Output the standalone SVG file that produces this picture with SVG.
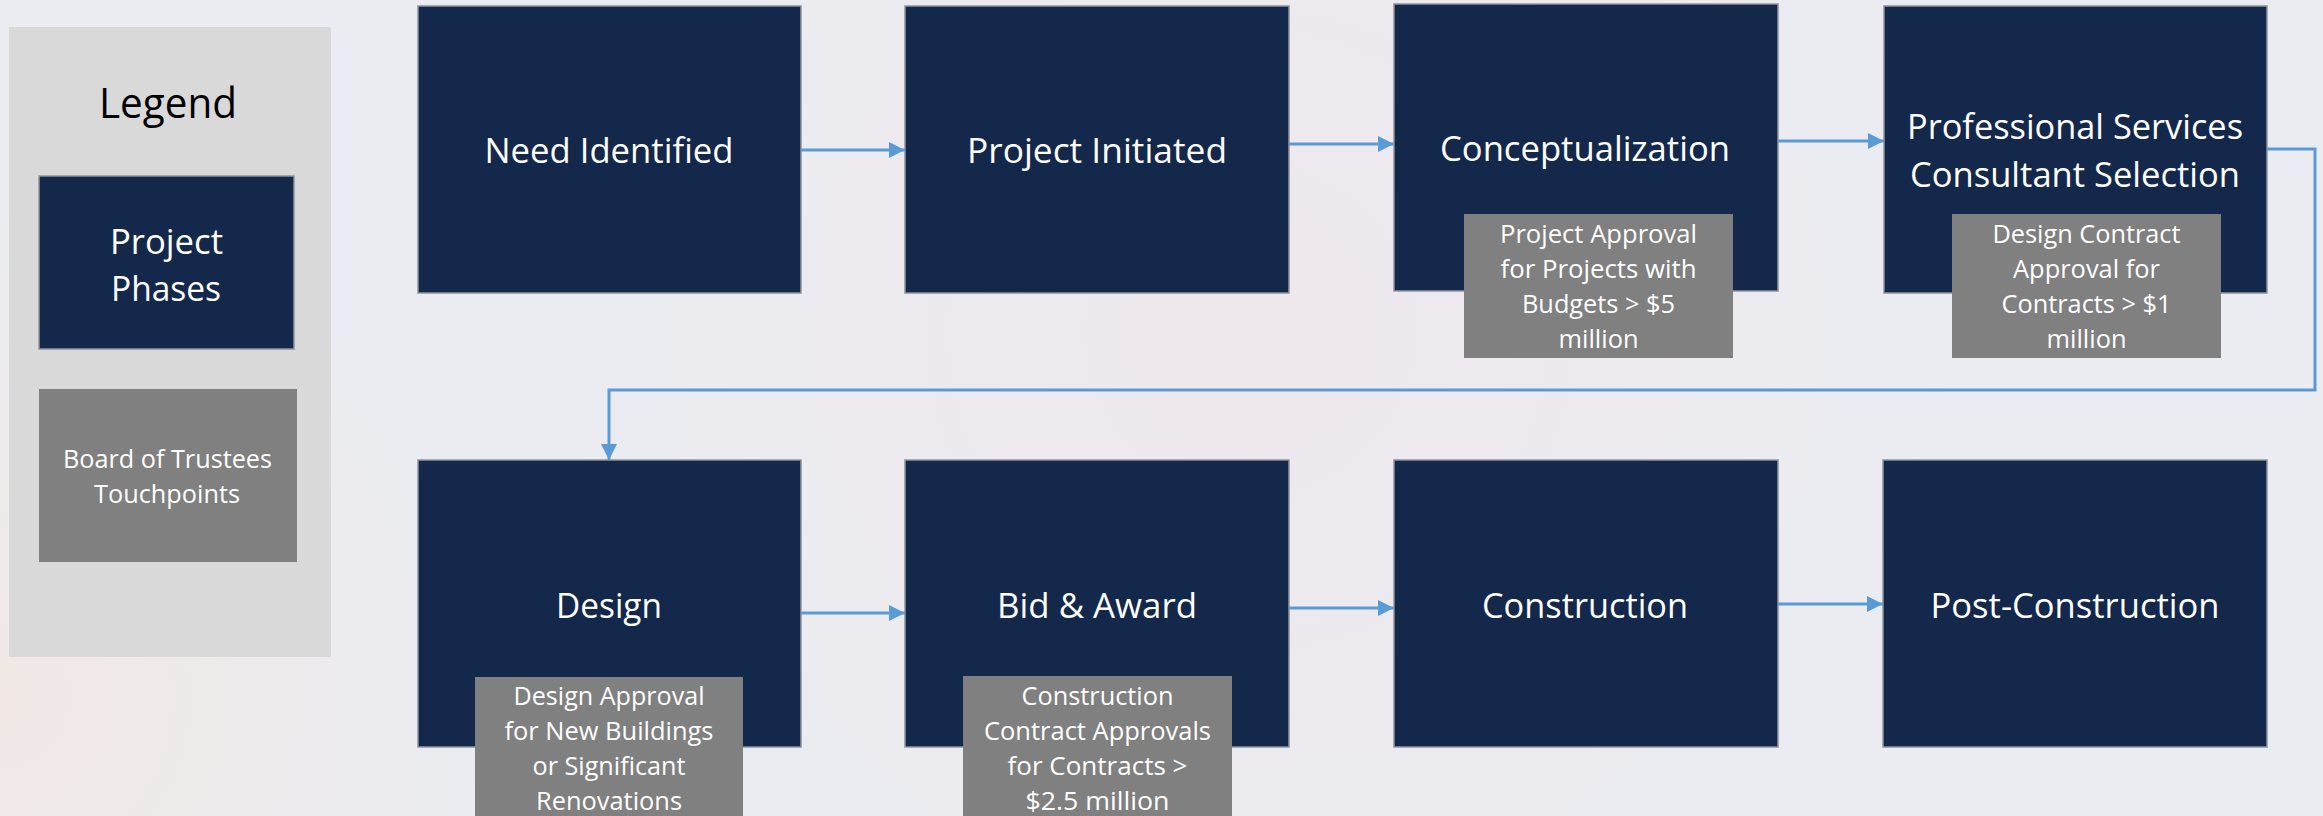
<svg xmlns="http://www.w3.org/2000/svg" width="2323" height="816" viewBox="0 0 2323 816">
  <defs>
    <radialGradient id="bgPink" cx="1250" cy="330" r="700" gradientUnits="userSpaceOnUse">
      <stop offset="0" stop-color="#efe7ec" stop-opacity="0.9"/>
      <stop offset="1" stop-color="#efe7ec" stop-opacity="0"/>
    </radialGradient>
    <radialGradient id="bgWarm" cx="0" cy="700" r="500" gradientUnits="userSpaceOnUse">
      <stop offset="0" stop-color="#f1e8e5" stop-opacity="1"/>
      <stop offset="1" stop-color="#f1e8e5" stop-opacity="0"/>
    </radialGradient>
    <marker id="arrow" markerUnits="userSpaceOnUse" markerWidth="17" markerHeight="16" refX="16" refY="8" orient="auto">
      <path d="M0,0 L16,8 L0,16 z" fill="#5b9bd5"/>
    </marker>
    <style>
      .phase { fill: #14284b; stroke: #8f949c; stroke-width: 1.5; }
      .touch { fill: #808080; }
      .lbl { font-family: "Open Sans", "Noto Sans", "DejaVu Sans", sans-serif; fill: #ffffff; text-anchor: middle; }
      .big { font-size: 35px; }
      .small { font-size: 26px; }
      .conn { fill: none; stroke: #5b9bd5; stroke-width: 3; marker-end: url(#arrow); }
    </style>
  </defs>

  <rect x="0" y="0" width="2323" height="816" fill="#eaecf1"/>
  <rect x="0" y="0" width="2323" height="816" fill="url(#bgPink)"/>
  <rect x="0" y="0" width="2323" height="816" fill="url(#bgWarm)"/>

  <g id="legend">
    <rect x="9" y="27" width="322" height="630" fill="#d9d9d9"/>
    <text x="168" y="118" font-family="Open Sans, Noto Sans, sans-serif" font-size="42" fill="#000000" text-anchor="middle" textLength="138" lengthAdjust="spacingAndGlyphs">Legend</text>
    <g id="legend-phase">
      <rect x="39" y="176" width="255" height="173" class="phase"/>
      <text x="166.5" y="254" class="lbl big" textLength="113" lengthAdjust="spacingAndGlyphs">Project</text>
      <text x="166" y="301" class="lbl big" textLength="110" lengthAdjust="spacingAndGlyphs">Phases</text>
    </g>
    <g id="legend-touch">
      <rect x="39" y="389" width="258" height="173" class="touch"/>
      <text x="167.5" y="468" class="lbl small" textLength="209" lengthAdjust="spacingAndGlyphs">Board of Trustees</text>
      <text x="167" y="503" class="lbl small" textLength="146" lengthAdjust="spacingAndGlyphs">Touchpoints</text>
    </g>
  </g>

  <g id="connectors">
    <line x1="801" y1="150" x2="905" y2="150" class="conn"/>
    <line x1="1289" y1="144" x2="1394" y2="144" class="conn"/>
    <line x1="1778" y1="141" x2="1884" y2="141" class="conn"/>
    <polyline points="2267,149 2315,149 2315,390 609,390 609,460" class="conn"/>
    <line x1="801" y1="613" x2="905" y2="613" class="conn"/>
    <line x1="1289" y1="608" x2="1394" y2="608" class="conn"/>
    <line x1="1778" y1="604" x2="1883" y2="604" class="conn"/>
  </g>

  <g id="need-identified">
    <rect x="418" y="6" width="383" height="287" class="phase"/>
    <text x="609" y="162.5" class="lbl big" textLength="249" lengthAdjust="spacingAndGlyphs">Need Identified</text>
  </g>

  <g id="project-initiated">
    <rect x="905" y="6" width="384" height="287" class="phase"/>
    <text x="1097" y="163" class="lbl big" textLength="260" lengthAdjust="spacingAndGlyphs">Project Initiated</text>
  </g>

  <g id="conceptualization">
    <rect x="1394" y="4" width="384" height="287" class="phase"/>
    <text x="1585" y="161" class="lbl big" textLength="290" lengthAdjust="spacingAndGlyphs">Conceptualization</text>
  </g>
  <g id="touch-project-approval">
    <rect x="1464" y="214" width="269" height="144" class="touch"/>
    <text x="1598.5" y="243" class="lbl small" textLength="197" lengthAdjust="spacingAndGlyphs">Project Approval</text>
    <text x="1598.5" y="278" class="lbl small" textLength="196" lengthAdjust="spacingAndGlyphs">for Projects with</text>
    <text x="1598.5" y="313" class="lbl small" textLength="153" lengthAdjust="spacingAndGlyphs">Budgets &gt; $5</text>
    <text x="1598.5" y="348" class="lbl small" textLength="80" lengthAdjust="spacingAndGlyphs">million</text>
  </g>

  <g id="professional-services">
    <rect x="1884" y="6" width="383" height="287" class="phase"/>
    <text x="2075" y="139" class="lbl big" textLength="336" lengthAdjust="spacingAndGlyphs">Professional Services</text>
    <text x="2075" y="187" class="lbl big" textLength="330" lengthAdjust="spacingAndGlyphs">Consultant Selection</text>
  </g>
  <g id="touch-design-contract">
    <rect x="1952" y="214" width="269" height="144" class="touch"/>
    <text x="2086.5" y="243" class="lbl small" textLength="188" lengthAdjust="spacingAndGlyphs">Design Contract</text>
    <text x="2086.5" y="278" class="lbl small" textLength="147" lengthAdjust="spacingAndGlyphs">Approval for</text>
    <text x="2086.5" y="313" class="lbl small" textLength="170" lengthAdjust="spacingAndGlyphs">Contracts &gt; $1</text>
    <text x="2086.5" y="348" class="lbl small" textLength="80" lengthAdjust="spacingAndGlyphs">million</text>
  </g>

  <g id="design">
    <rect x="418" y="460" width="383" height="287" class="phase"/>
    <text x="609" y="618" class="lbl big" textLength="106" lengthAdjust="spacingAndGlyphs">Design</text>
  </g>
  <g id="touch-design-approval">
    <rect x="475" y="677" width="268" height="150" class="touch"/>
    <text x="609" y="705" class="lbl small" textLength="191" lengthAdjust="spacingAndGlyphs">Design Approval</text>
    <text x="609" y="740" class="lbl small" textLength="209" lengthAdjust="spacingAndGlyphs">for New Buildings</text>
    <text x="609" y="775" class="lbl small" textLength="153" lengthAdjust="spacingAndGlyphs">or Significant</text>
    <text x="609" y="810" class="lbl small" textLength="146" lengthAdjust="spacingAndGlyphs">Renovations</text>
  </g>

  <g id="bid-award">
    <rect x="905" y="460" width="384" height="287" class="phase"/>
    <text x="1097" y="618" class="lbl big" textLength="200" lengthAdjust="spacingAndGlyphs">Bid &amp; Award</text>
  </g>
  <g id="touch-construction-contract">
    <rect x="963" y="676" width="269" height="150" class="touch"/>
    <text x="1097.5" y="705" class="lbl small" textLength="152" lengthAdjust="spacingAndGlyphs">Construction</text>
    <text x="1097.5" y="740" class="lbl small" textLength="227" lengthAdjust="spacingAndGlyphs">Contract Approvals</text>
    <text x="1097.5" y="775" class="lbl small" textLength="180" lengthAdjust="spacingAndGlyphs">for Contracts &gt;</text>
    <text x="1097.5" y="810" class="lbl small" textLength="144" lengthAdjust="spacingAndGlyphs">$2.5 million</text>
  </g>

  <g id="construction">
    <rect x="1394" y="460" width="384" height="287" class="phase"/>
    <text x="1585" y="618" class="lbl big" textLength="206" lengthAdjust="spacingAndGlyphs">Construction</text>
  </g>

  <g id="post-construction">
    <rect x="1883" y="460" width="384" height="287" class="phase"/>
    <text x="2075" y="618" class="lbl big" textLength="289" lengthAdjust="spacingAndGlyphs">Post-Construction</text>
  </g>
</svg>
